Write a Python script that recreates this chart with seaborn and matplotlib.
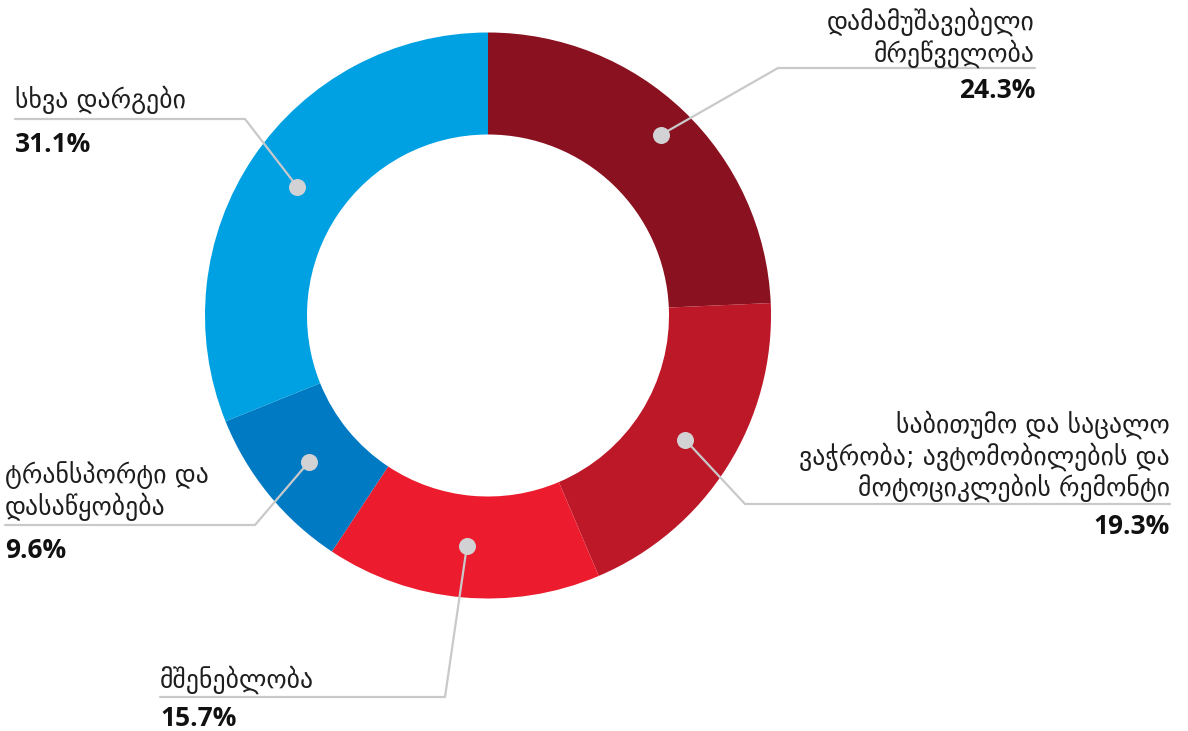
import matplotlib
matplotlib.use("Agg")
import matplotlib.pyplot as plt
import seaborn as sns
import numpy as np

# data
sectors = [
    "დამამუშავებელი\nმრეწველობა",
    "საბითუმო და საცალო\nვაჭრობა; ავტომობილების და\nმოტოციკლების რემონტი",
    "მშენებლობა",
    "ტრანსპორტი და\nდასაწყობება",
    "სხვა დარგები",
]
shares = [24.3, 19.3, 15.7, 9.6, 31.1]
colors = ["#8a111f", "#bd1828", "#ec1c2e", "#007bc3", "#00a1e2"]

sns.set_theme(style="white")
plt.rcParams['font.family'] = ['DejaVu Sans']

W, H = 1188, 731
fig = plt.figure(figsize=(W / 100, H / 100), dpi=100)
ax = fig.add_axes([0, 0, 1, 1])

cx, cy = 488, 315.5
r_out, r_in = 283, 181

# y axis is inverted below, so counterclock=True draws clockwise on screen
wedges, _ = ax.pie(shares, colors=sns.color_palette(colors), startangle=-90,
                   counterclock=True, radius=r_out, center=(cx, cy),
                   wedgeprops=dict(width=r_out - r_in, linewidth=0))

ax.set_xlim(0, W)
ax.set_ylim(H, 0)
ax.set_aspect("equal")
ax.axis("off")

# leader layout: knee point, end of horizontal rule, side, text anchor
leaders = [
    dict(knee=(778, 68), end=1035, ha="right", lines_y=22, pct_y=90),
    dict(knee=(745, 504), end=1170, ha="right", lines_y=425, pct_y=527),
    dict(knee=(445, 697), end=160, ha="left", lines_y=680, pct_y=718),
    dict(knee=(255, 525), end=5, ha="left", lines_y=475, pct_y=550),
    dict(knee=(245, 119), end=15, ha="left", lines_y=100, pct_y=145),
]

line_col = "#c9c9cb"
dot_r = [250, 233, 231, 231, 230]
cum = np.cumsum([0] + shares)
for i, (name, val) in enumerate(zip(sectors, shares)):
    mid = -90 + (cum[i] + cum[i + 1]) / 2 / 100 * 360
    dx = cx + dot_r[i] * np.cos(np.radians(mid))
    dy = cy + dot_r[i] * np.sin(np.radians(mid))
    L = leaders[i]
    kx, ky = L["knee"]
    ax.plot([dx, kx, L["end"]], [dy, ky, ky], color=line_col, lw=1.6,
            solid_joinstyle="miter", zorder=3)
    ax.scatter([dx], [dy], s=150, color="#d2d2d4", zorder=4, linewidths=0)

    for j, ln in enumerate(name.split("\n")):
        ax.text(L["end"], L["lines_y"] + j * 31.5, ln, ha=L["ha"], va="center",
                fontsize=18.5, color="#1e1e1e")
    ax.text(L["end"], L["pct_y"], f"{val:.1f}%", ha=L["ha"], va="center",
            fontsize=19, fontweight="bold", color="#111111",
            family=["Open Sans", "DejaVu Sans"])

fig.savefig("out.png", dpi=100)
